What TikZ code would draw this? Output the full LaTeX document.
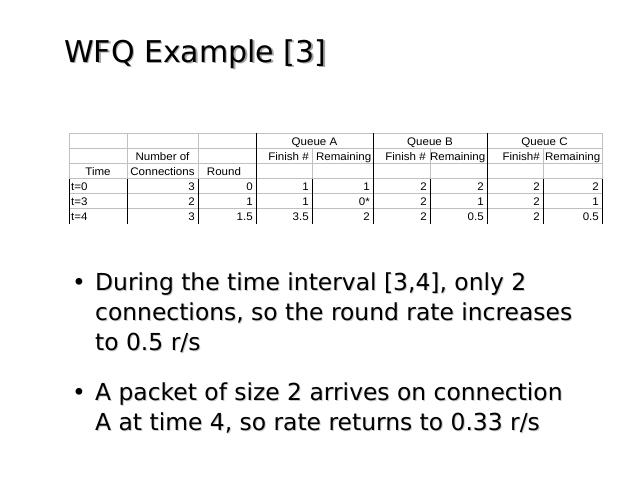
\documentclass[tikz,border=0pt]{standalone}
\usepackage{fontspec}
\setmainfont{DejaVu Sans}
\newfontfamily\slidefont{DejaVu Sans}
\newfontfamily\cellfont[FakeStretch=1.05]{Liberation Sans}
\definecolor{gridgray}{RGB}{192,192,192}
\definecolor{shadowgray}{RGB}{165,165,165}
\definecolor{lightshadow}{RGB}{200,200,200}

\begin{document}
\begin{tikzpicture}[x=1pt,y=-1pt,
    thingrid/.style={gridgray,line width=0.8pt},
    blackgrid/.style={black,line width=1pt},
    titletext/.style={anchor=base west,inner sep=0pt,font=\slidefont\fontsize{30}{36}\selectfont},
    bullettext/.style={anchor=base west,inner sep=0pt,font=\slidefont\fontsize{23.4}{30}\selectfont},
    cellr/.style={anchor=base east,inner sep=0pt,font=\cellfont\fontsize{11}{13}\selectfont},
    cellc/.style={anchor=base,inner sep=0pt,font=\cellfont\fontsize{11}{13}\selectfont},
    celll/.style={anchor=base west,inner sep=0pt,font=\cellfont\fontsize{11}{13}\selectfont}]
                \useasboundingbox (0,0) rectangle (640,480);
                % title
                \node[titletext,shadowgray] (titleshadow) at (65.5,63.5) {WFQ Example [3]};
                \node[titletext] (title) at (64,62) {WFQ Example [3]};

                % table grid
                \draw[thingrid] (69,133)--(602,133);
                \draw[thingrid] (69,148)--(602,148);
                \draw[thingrid] (69,163.5)--(602,163.5);
                \draw[thingrid] (69,178.5)--(602,178.5);
                \draw[thingrid] (69,193.5)--(602,193.5);
                \draw[thingrid] (69,208.5)--(602,208.5);
                \draw[thingrid] (69,133)--(69,178.5);
                \draw[thingrid] (127,133)--(127,178.5);
                \draw[thingrid] (198,133)--(198,178.5);
                \draw[thingrid] (312,148)--(312,178.5);
                \draw[thingrid] (430,148)--(430,178.5);
                \draw[thingrid] (543,148)--(543,178.5);
                \draw[thingrid] (602,133)--(602,178.5);
                \draw[blackgrid] (69,178.5)--(69,223.5);
                \draw[blackgrid] (127,178.5)--(127,223.5);
                \draw[blackgrid] (198,178.5)--(198,223.5);
                \draw[blackgrid] (312,178.5)--(312,223.5);
                \draw[blackgrid] (430,178.5)--(430,223.5);
                \draw[blackgrid] (543,178.5)--(543,223.5);
                \draw[blackgrid] (602,178.5)--(602,223.5);
                \draw[blackgrid] (256,133)--(256,223.5);
                \draw[blackgrid] (373,133)--(373,223.5);
                \draw[blackgrid] (487,133)--(487,223.5);

                % table headings
                \node[cellc] (queuea) at (314.5,145) {Queue A};
                \node[cellc] (queueb) at (430,145) {Queue B};
                \node[cellc] (queuec) at (544.5,145) {Queue C};
                \node[cellc] (numberof) at (162.5,160) {Number of};
                \node[cellr] (finisha) at (309,160) {Finish \#};
                \node[cellr] (remaina) at (371.5,160) {Remaining};
                \node[cellr] (finishb) at (426,160) {Finish \#};
                \node[cellr] (remainb) at (485.5,160) {Remaining};
                \node[cellr] (finishc) at (540,160) {Finish\#};
                \node[cellr] (remainc) at (600.5,160) {Remaining};
                \node[cellc] (time) at (98,175) {Time};
                \node[cellc] (connections) at (162.5,175) {Connections};
                \node[cellc] (round) at (224,175) {Round};

                % row t=0
                \node[celll] (tzero) at (71,190) {t=0};
                \node[cellr] (conzero) at (195,190) {3};
                \node[cellr] (rndzero) at (253,190) {0};
                \node[cellr] (fazero) at (309,190) {1};
                \node[cellr] (razero) at (370,190) {1};
                \node[cellr] (fbzero) at (427,190) {2};
                \node[cellr] (rbzero) at (484,190) {2};
                \node[cellr] (fczero) at (540,190) {2};
                \node[cellr] (rczero) at (599,190) {2};
                % row t=3
                \node[celll] (tthree) at (71,205) {t=3};
                \node[cellr] (conthree) at (195,205) {2};
                \node[cellr] (rndthree) at (253,205) {1};
                \node[cellr] (fathree) at (309,205) {1};
                \node[cellr] (rathree) at (370,205) {0*};
                \node[cellr] (fbthree) at (427,205) {2};
                \node[cellr] (rbthree) at (484,205) {1};
                \node[cellr] (fcthree) at (540,205) {2};
                \node[cellr] (rcthree) at (599,205) {1};
                % row t=4
                \node[celll] (tfour) at (71,220) {t=4};
                \node[cellr] (confour) at (195,220) {3};
                \node[cellr] (rndfour) at (253,220) {1.5};
                \node[cellr] (fafour) at (309,220) {3.5};
                \node[cellr] (rafour) at (370,220) {2};
                \node[cellr] (fbfour) at (427,220) {2};
                \node[cellr] (rbfour) at (484,220) {0.5};
                \node[cellr] (fcfour) at (540,220) {2};
                \node[cellr] (rcfour) at (599,220) {0.5};

                % bullets
                \node[bullettext] (dotone) at (72,290) {•};
                \node[bullettext,lightshadow] (lineoneshadow) at (96,291) {During the time interval [3,4], only 2};
                \node[bullettext] (lineone) at (95,290) {During the time interval [3,4], only 2};
                \node[bullettext,lightshadow] (linetwoshadow) at (96,321) {connections, so the round rate increases};
                \node[bullettext] (linetwo) at (95,320) {connections, so the round rate increases};
                \node[bullettext,lightshadow] (linethreeshadow) at (96,351) {to 0.5 r/s};
                \node[bullettext] (linethree) at (95,350) {to 0.5 r/s};
                \node[bullettext] (dottwo) at (72,400) {•};
                \node[bullettext,lightshadow] (linefourshadow) at (96,401) {A packet of size 2 arrives on connection};
                \node[bullettext] (linefour) at (95,400) {A packet of size 2 arrives on connection};
                \node[bullettext,lightshadow] (linefiveshadow) at (96,431) {A at time 4, so rate returns to 0.33 r/s};
                \node[bullettext] (linefive) at (95,430) {A at time 4, so rate returns to 0.33 r/s};
            
            \end{tikzpicture}
\end{document}
